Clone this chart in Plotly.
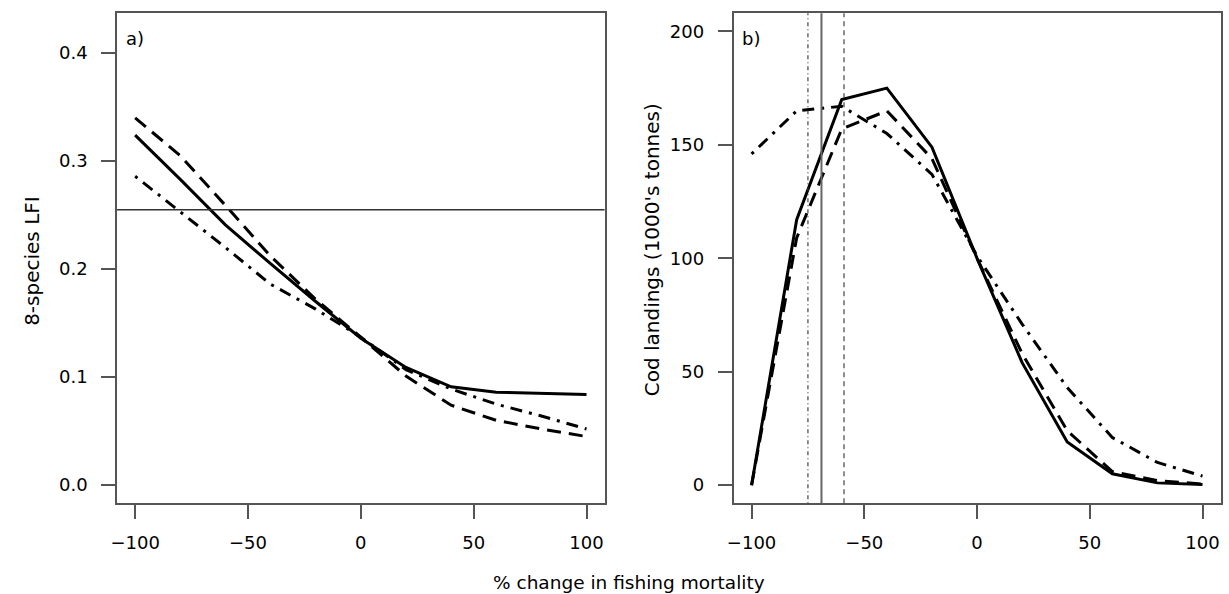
import plotly.graph_objects as go

# ---------------- data ----------------
f_change = [-100, -80, -60, -40, -20, 0, 20, 40, 60, 80, 100]

# panel a) 8-species LFI
lfi_solid = [0.324, 0.283, 0.241, 0.205, 0.170, 0.136, 0.109, 0.091, 0.086, 0.085, 0.084]
lfi_dashed = [0.340, 0.305, 0.259, 0.212, 0.172, 0.137, 0.101, 0.074, 0.060, 0.052, 0.045]
lfi_dotdash = [0.286, 0.253, 0.220, 0.186, 0.163, 0.137, 0.107, 0.089, 0.075, 0.064, 0.052]
lfi_reference = 0.255

# panel b) Cod landings (1000's tonnes)
cod_solid = [0, 117, 170, 175, 149, 100, 54, 19, 5, 1, 0.3]
cod_dashed = [0, 109, 157, 165, 144, 100, 58, 24, 6, 2, 0.5]
cod_dotdash = [146, 165, 167, 155, 137, 101, 71, 43, 21, 10, 4]
cod_vlines = {"dotdash": -75, "solid": -69, "dash": -59}

x_ticks = [-100, -50, 0, 50, 100]
y_ticks_a = [0.0, 0.1, 0.2, 0.3, 0.4]
y_ticks_a_text = ["0.0", "0.1", "0.2", "0.3", "0.4"]
y_ticks_b = [0, 50, 100, 150, 200]

x_title = "% change in fishing mortality"
y_title_a = "8-species LFI"
y_title_b = "Cod landings (1000's tonnes)"

# ---------------- styles ----------------
W, H = 1229, 594
FONT = "DejaVu Sans"
AX_COL = "#555555"
dash_long = "14px,8px"
dash_dotdash = "3px,7px,12px,7px"

fig = go.Figure()

def add_line(x, y, dash, xa, ya):
    fig.add_trace(go.Scatter(x=x, y=y, mode="lines", xaxis=xa, yaxis=ya,
                             line=dict(color="black", width=3.0, dash=dash),
                             showlegend=False, hoverinfo="skip"))

add_line(f_change, lfi_dashed, dash_long, "x", "y")
add_line(f_change, lfi_dotdash, dash_dotdash, "x", "y")
add_line(f_change, lfi_solid, "solid", "x", "y")

add_line(f_change, cod_dashed, dash_long, "x2", "y2")
add_line(f_change, cod_dotdash, dash_dotdash, "x2", "y2")
add_line(f_change, cod_solid, "solid", "x2", "y2")

# reference line panel a
fig.add_shape(type="line", xref="x domain", yref="y", x0=0, x1=1,
              y0=lfi_reference, y1=lfi_reference,
              line=dict(color="#333333", width=1.4))

# vertical lines panel b
vstyle = {"dotdash": ("#333333", 1.1, "1px,3px,4px,3px"),
          "solid": ("#666666", 2.0, "solid"),
          "dash": ("#333333", 1.1, "5px,4px")}
for k, xv in cod_vlines.items():
    c, w, d = vstyle[k]
    fig.add_shape(type="line", xref="x2", yref="y2 domain", x0=xv, x1=xv,
                  y0=0, y1=1, line=dict(color=c, width=w, dash=d))

ydom = [1 - 503.3 / H, 1 - 13.3 / H]
axis_common = dict(showline=True, mirror=True, linecolor=AX_COL, linewidth=1.6,
                   ticks="outside", ticklen=14, tickwidth=1.6, tickcolor=AX_COL,
                   showgrid=False, zeroline=False,
                   tickfont=dict(family=FONT, size=18, color="black"))

fig.update_layout(
    width=W, height=H,
    margin=dict(l=0, r=0, t=0, b=0),
    paper_bgcolor="white", plot_bgcolor="white",
    xaxis=dict(domain=[110.7 / W, 601 / W], range=[-108, 108], tickvals=x_ticks,
               anchor="y", ticklabelstandoff=8, **axis_common),
    yaxis=dict(domain=ydom, range=[-0.0168, 0.4368], tickvals=y_ticks_a,
               ticktext=y_ticks_a_text, anchor="x", ticklabelstandoff=10, **axis_common),
    xaxis2=dict(domain=[730.7 / W, 1220.5 / W], range=[-108, 108], tickvals=x_ticks,
                anchor="y2", ticklabelstandoff=8, **axis_common),
    yaxis2=dict(domain=ydom, range=[-8, 208], tickvals=y_ticks_b, anchor="x2",
                ticklabelstandoff=10, **axis_common),
)

fig.add_annotation(text=x_title, xref="paper", yref="paper", x=626 / W, y=1 - 582 / H,
                   showarrow=False, xanchor="center", yanchor="middle",
                   font=dict(family=FONT, size=18.5, color="black"))
fig.add_annotation(text=y_title_a, xref="paper", yref="paper", x=25 / W, y=1 - 261 / H,
                   showarrow=False, textangle=-90, xanchor="center", yanchor="middle",
                   font=dict(family=FONT, size=20, color="black"))
fig.add_annotation(text=y_title_b, xref="paper", yref="paper", x=649 / W, y=1 - 250 / H,
                   showarrow=False, textangle=-90, xanchor="center", yanchor="middle",
                   font=dict(family=FONT, size=20, color="black"))
fig.add_annotation(text="a)", xref="paper", yref="paper", x=118 / W, y=1 - 39 / H,
                   showarrow=False, xanchor="left", yanchor="middle",
                   font=dict(family=FONT, size=18, color="black"))
fig.add_annotation(text="b)", xref="paper", yref="paper", x=737 / W, y=1 - 38.5 / H,
                   showarrow=False, xanchor="left", yanchor="middle",
                   font=dict(family=FONT, size=18, color="black"))

fig.write_html("out.html", config={"displayModeBar": False},
               post_script="document.body.style.margin='0px';"
                           "document.body.style.overflow='hidden';")
